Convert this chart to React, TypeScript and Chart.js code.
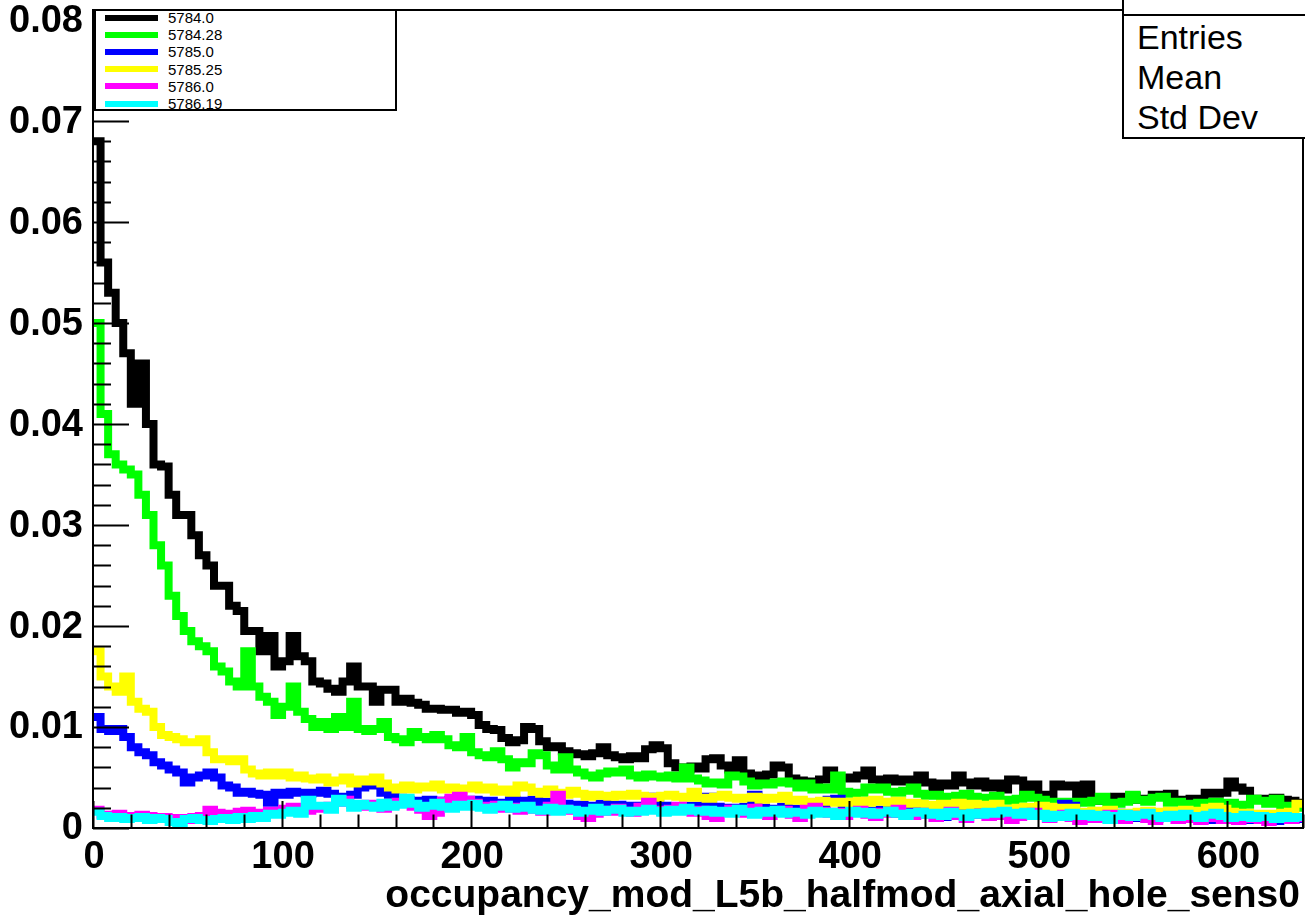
import React, { useEffect, useRef } from "react";
import { Chart, registerables } from "chart.js";

Chart.register(...registerables);

// ---------- data ----------
const BIN_WIDTH = 4;
const X_MAX = 640;
const Y_MAX = 0.081;
const X_TICK_LABELS = [0, 100, 200, 300, 400, 500, 600];
const Y_TICK_LABELS = [0, 0.01, 0.02, 0.03, 0.04, 0.05, 0.06, 0.07, 0.08];
const SERIES_NAMES = ["5784.0", "5784.28", "5785.0", "5785.25", "5786.0", "5786.19"];
const SERIES_COLORS = ["#000000", "#00ff00", "#0000ff", "#ffff00", "#ff00ff", "#00ffff"];
const X_TITLE = "occupancy_mod_L5b_halfmod_axial_hole_sens0";
const STATS_LABELS = ["Entries", "Mean", "Std Dev"];

const black = [
  0.068, 0.056, 0.053, 0.050, 0.047, 0.042, 0.046, 0.040, 0.036, 0.0358,
  0.033, 0.031, 0.031, 0.029, 0.027, 0.026, 0.024, 0.024, 0.022, 0.0215,
  0.0195, 0.0195, 0.0175, 0.019, 0.016, 0.0165, 0.019, 0.017, 0.0165, 0.0145,
  0.0143, 0.0138, 0.0135, 0.0145, 0.016, 0.014, 0.014, 0.0125, 0.0137, 0.0137,
  0.0125, 0.0128, 0.0124, 0.0122, 0.0118, 0.0118, 0.0117, 0.0117, 0.0114, 0.0115,
  0.0112, 0.0102, 0.0098, 0.0097, 0.0089, 0.0085, 0.0087, 0.0100, 0.0098, 0.0086,
  0.0080, 0.0081, 0.0076, 0.0074, 0.0073, 0.0071, 0.0074, 0.0080, 0.0072, 0.0070,
  0.0068, 0.0071, 0.0069, 0.0078, 0.0082, 0.0079, 0.0064, 0.0060, 0.0058, 0.0061,
  0.0059, 0.0068, 0.0069, 0.0062, 0.0058, 0.0067, 0.0054, 0.0052, 0.0051, 0.0053,
  0.0062, 0.0060, 0.0049, 0.0047, 0.0046, 0.0045, 0.0048, 0.0057, 0.0050, 0.0050,
  0.0049, 0.0052, 0.0057, 0.0048, 0.0047, 0.0049, 0.0046, 0.0048, 0.0047, 0.0052,
  0.0045, 0.0040, 0.0044, 0.0042, 0.0052, 0.0045, 0.0042, 0.0046, 0.0040, 0.0044,
  0.0038, 0.0048, 0.0047, 0.0036, 0.0043, 0.0031, 0.0033, 0.0043, 0.0041, 0.0042,
  0.0032, 0.0043, 0.0029, 0.0027, 0.0029, 0.0031, 0.0030, 0.0032, 0.0028, 0.0029,
  0.0033, 0.0032, 0.0034, 0.0028, 0.0027, 0.0029, 0.0028, 0.0035, 0.0034, 0.0035,
  0.0046, 0.0040, 0.0037, 0.0028, 0.0029, 0.0027, 0.0030, 0.0028, 0.0027, 0.0025,
];

const green = [
  0.050, 0.041, 0.037, 0.036, 0.0355, 0.035, 0.033, 0.031, 0.028, 0.026,
  0.023, 0.021, 0.0195, 0.0185, 0.018, 0.0175, 0.016, 0.0155, 0.0145, 0.014,
  0.0175, 0.014, 0.013, 0.0125, 0.0112, 0.0120, 0.0140, 0.0115, 0.0108, 0.0100,
  0.0105, 0.0098, 0.0110, 0.0100, 0.0125, 0.0098, 0.0096, 0.0098, 0.0105, 0.0090,
  0.0088, 0.0085, 0.0095, 0.0090, 0.0088, 0.0092, 0.0088, 0.0082, 0.0080, 0.0090,
  0.0075, 0.0072, 0.0070, 0.0076, 0.0068, 0.0060, 0.0065, 0.0064, 0.0074, 0.0072,
  0.0062, 0.0058, 0.0070, 0.0058, 0.0055, 0.0052, 0.0050, 0.0054, 0.0056, 0.0055,
  0.0058, 0.0052, 0.0050, 0.0053, 0.0051, 0.0050, 0.0052, 0.0049, 0.0060, 0.0049,
  0.0047, 0.0044, 0.0045, 0.0043, 0.0052, 0.0051, 0.0046, 0.0042, 0.0044, 0.0043,
  0.0045, 0.0046, 0.0044, 0.0040, 0.0044, 0.0038, 0.0040, 0.0038, 0.0052, 0.0036,
  0.0034, 0.0035, 0.0040, 0.0038, 0.0040, 0.0036, 0.0035, 0.0037, 0.0040, 0.0034,
  0.0032, 0.0033, 0.0031, 0.0030, 0.0032, 0.0034, 0.0031, 0.0029, 0.0030, 0.0032,
  0.0028, 0.0027, 0.0029, 0.0033, 0.0030, 0.0028, 0.0026, 0.0025, 0.0026, 0.0024,
  0.0026, 0.0025, 0.0027, 0.0031, 0.0025, 0.0024, 0.0026, 0.0033, 0.0028, 0.0026,
  0.0030, 0.0031, 0.0025, 0.0026, 0.0024, 0.0023, 0.0025, 0.0024, 0.0026, 0.0023,
  0.0025, 0.0022, 0.0023, 0.0029, 0.0027, 0.0024, 0.0029, 0.0022, 0.0021, 0.0020,
];

const blue = [
  0.0110, 0.0098, 0.0096, 0.0098, 0.0090, 0.0080, 0.0075, 0.0072, 0.0065, 0.0062,
  0.0058, 0.0055, 0.0045, 0.0050, 0.0052, 0.0055, 0.0050, 0.0042, 0.0040, 0.0035,
  0.0036, 0.0034, 0.0033, 0.0025, 0.0035, 0.0033, 0.0036, 0.0035, 0.0034, 0.0035,
  0.0037, 0.0034, 0.0031, 0.0030, 0.0033, 0.0040, 0.0046, 0.0042, 0.0035, 0.0033,
  0.0030, 0.0028, 0.0027, 0.0026, 0.0028, 0.0025, 0.0027, 0.0028, 0.0026, 0.0025,
  0.0028, 0.0026, 0.0027, 0.0025, 0.0024, 0.0028, 0.0025, 0.0027, 0.0028, 0.0023,
  0.0026, 0.0022, 0.0024, 0.0021, 0.0023, 0.0020, 0.0022, 0.0024, 0.0021, 0.0023,
  0.0020, 0.0022, 0.0019, 0.0024, 0.0031, 0.0022, 0.0020, 0.0021, 0.0019, 0.0022,
  0.0020, 0.0031, 0.0021, 0.0019, 0.0020, 0.0018, 0.0021, 0.0033, 0.0020, 0.0018,
  0.0019, 0.0021, 0.0017, 0.0019, 0.0018, 0.0016, 0.0019, 0.0028, 0.0029, 0.0018,
  0.0016, 0.0019, 0.0017, 0.0015, 0.0018, 0.0016, 0.0014, 0.0017, 0.0015, 0.0018,
  0.0016, 0.0014, 0.0011, 0.0015, 0.0017, 0.0014, 0.0016, 0.0013, 0.0015, 0.0014,
  0.0016, 0.0013, 0.0015, 0.0012, 0.0014, 0.0016, 0.0013, 0.0015, 0.0024, 0.0022,
  0.0014, 0.0012, 0.0014, 0.0011, 0.0013, 0.0015, 0.0012, 0.0010, 0.0013, 0.0011,
  0.0009, 0.0012, 0.0010, 0.0013, 0.0011, 0.0009, 0.0012, 0.0010, 0.0008, 0.0011,
  0.0009, 0.0012, 0.0010, 0.0008, 0.0011, 0.0009, 0.0007, 0.0010, 0.0008, 0.0009,
];

const yellow = [
  0.0175, 0.0150, 0.0140, 0.0135, 0.0150, 0.0125, 0.0118, 0.0115, 0.0100, 0.0092,
  0.0090, 0.0088, 0.0085, 0.0085, 0.0088, 0.0075, 0.0068, 0.0068, 0.0066, 0.0068,
  0.0058, 0.0054, 0.0052, 0.0055, 0.0052, 0.0055, 0.0050, 0.0052, 0.0049, 0.0048,
  0.0050, 0.0045, 0.0047, 0.0050, 0.0044, 0.0048, 0.0046, 0.0050, 0.0044, 0.0040,
  0.0038, 0.0042, 0.0038, 0.0041, 0.0040, 0.0043, 0.0038, 0.0040, 0.0037, 0.0039,
  0.0042, 0.0038, 0.0040, 0.0036, 0.0038, 0.0035, 0.0042, 0.0040, 0.0036, 0.0034,
  0.0038, 0.0035, 0.0033, 0.0037, 0.0034, 0.0031, 0.0033, 0.0032, 0.0031, 0.0033,
  0.0032, 0.0034, 0.0032, 0.0031, 0.0030, 0.0032, 0.0033, 0.0031, 0.0030, 0.0036,
  0.0030, 0.0029, 0.0031, 0.0033, 0.0030, 0.0029, 0.0030, 0.0031, 0.0028, 0.0030,
  0.0029, 0.0032, 0.0027, 0.0028, 0.0026, 0.0025, 0.0027, 0.0026, 0.0025, 0.0026,
  0.0024, 0.0027, 0.0025, 0.0028, 0.0026, 0.0025, 0.0027, 0.0024, 0.0025, 0.0024,
  0.0023, 0.0022, 0.0024, 0.0023, 0.0025, 0.0022, 0.0024, 0.0023, 0.0022, 0.0024,
  0.0019, 0.0018, 0.0020, 0.0021, 0.0020, 0.0022, 0.0021, 0.0020, 0.0019, 0.0020,
  0.0016, 0.0015, 0.0017, 0.0016, 0.0018, 0.0014, 0.0015, 0.0013, 0.0016, 0.0017,
  0.0016, 0.0015, 0.0017, 0.0016, 0.0018, 0.0017, 0.0016, 0.0020, 0.0021, 0.0019,
  0.0016, 0.0014, 0.0015, 0.0013, 0.0014, 0.0013, 0.0014, 0.0015, 0.0016, 0.0024,
];

const magenta = [
  0.0018, 0.0013, 0.0012, 0.0014, 0.0012, 0.0011, 0.0013, 0.0012, 0.0010, 0.0011,
  0.0009, 0.0010, 0.0008, 0.0011, 0.0012, 0.0018, 0.0015, 0.0012, 0.0014, 0.0016,
  0.0017, 0.0015, 0.0013, 0.0017, 0.0016, 0.0019, 0.0021, 0.0018, 0.0017, 0.0020,
  0.0019, 0.0022, 0.0025, 0.0028, 0.0023, 0.0021, 0.0024, 0.0022, 0.0019, 0.0022,
  0.0026, 0.0024, 0.0021, 0.0018, 0.0012, 0.0015, 0.0027, 0.0030, 0.0032, 0.0028,
  0.0025, 0.0022, 0.0020, 0.0023, 0.0019, 0.0021, 0.0017, 0.0020, 0.0018, 0.0016,
  0.0022, 0.0033, 0.0019, 0.0017, 0.0012, 0.0010, 0.0014, 0.0018, 0.0016, 0.0020,
  0.0017, 0.0015, 0.0021, 0.0026, 0.0018, 0.0016, 0.0019, 0.0022, 0.0017, 0.0015,
  0.0018, 0.0012, 0.0010, 0.0016, 0.0019, 0.0017, 0.0014, 0.0020, 0.0016, 0.0012,
  0.0015, 0.0018, 0.0013, 0.0010, 0.0019, 0.0021, 0.0017, 0.0014, 0.0016, 0.0012,
  0.0015, 0.0018, 0.0013, 0.0011, 0.0016, 0.0014, 0.0019, 0.0015, 0.0012, 0.0016,
  0.0013, 0.0010, 0.0014, 0.0017, 0.0012, 0.0009, 0.0013, 0.0015, 0.0011, 0.0014,
  0.0012, 0.0008, 0.0011, 0.0013, 0.0016, 0.0012, 0.0009, 0.0011, 0.0014, 0.0010,
  0.0007, 0.0011, 0.0009, 0.0012, 0.0014, 0.0010, 0.0008, 0.0011, 0.0013, 0.0009,
  0.0007, 0.0010, 0.0012, 0.0008, 0.0011, 0.0009, 0.0007, 0.0010, 0.0012, 0.0008,
  0.0010, 0.0007, 0.0009, 0.0011, 0.0008, 0.0006, 0.0009, 0.0011, 0.0008, 0.0010,
];

const cyan = [
  0.0016, 0.0012, 0.0010, 0.0011, 0.0009, 0.0010, 0.0011, 0.0008, 0.0010, 0.0009,
  0.0006, 0.0005, 0.0009, 0.0010, 0.0008, 0.0007, 0.0009, 0.0010, 0.0008, 0.0011,
  0.0009, 0.0012, 0.0010, 0.0014, 0.0013, 0.0015, 0.0017, 0.0014, 0.0028, 0.0022,
  0.0022, 0.0018, 0.0029, 0.0025, 0.0020, 0.0024, 0.0022, 0.0020, 0.0025, 0.0021,
  0.0023, 0.0030, 0.0024, 0.0020, 0.0022, 0.0025, 0.0021, 0.0019, 0.0023, 0.0021,
  0.0024, 0.0020, 0.0018, 0.0021, 0.0023, 0.0019, 0.0020, 0.0022, 0.0018, 0.0017,
  0.0020, 0.0016, 0.0019, 0.0018, 0.0015, 0.0017, 0.0020, 0.0016, 0.0018, 0.0019,
  0.0015, 0.0017, 0.0016, 0.0019, 0.0017, 0.0015, 0.0018, 0.0016, 0.0020, 0.0017,
  0.0016, 0.0018, 0.0015, 0.0017, 0.0014, 0.0019, 0.0016, 0.0013, 0.0017, 0.0015,
  0.0018, 0.0014, 0.0016, 0.0015, 0.0013, 0.0017, 0.0014, 0.0016, 0.0012, 0.0015,
  0.0017, 0.0014, 0.0016, 0.0013, 0.0015, 0.0017, 0.0014, 0.0012, 0.0015, 0.0016,
  0.0013, 0.0015, 0.0012, 0.0016, 0.0014, 0.0011, 0.0015, 0.0013, 0.0016, 0.0014,
  0.0017, 0.0015, 0.0013, 0.0016, 0.0012, 0.0014, 0.0010, 0.0013, 0.0011, 0.0015,
  0.0012, 0.0014, 0.0011, 0.0013, 0.0008, 0.0012, 0.0014, 0.0011, 0.0013, 0.0015,
  0.0012, 0.0010, 0.0013, 0.0011, 0.0014, 0.0012, 0.0010, 0.0013, 0.0015, 0.0012,
  0.0010, 0.0011, 0.0013, 0.0010, 0.0012, 0.0011, 0.0009, 0.0012, 0.0010, 0.0011,
];

const SERIES_VALUES = [black, green, blue, yellow, magenta, cyan];

// ---------- styling ----------
const FONT = "'Liberation Sans', Arial, Helvetica, sans-serif";

function histPoints(values: number[]) {
  const pts = values.map((v, i) => ({ x: i * BIN_WIDTH, y: v }));
  pts.push({ x: values.length * BIN_WIDTH, y: values[values.length - 1] });
  return pts;
}

const rootFrame = {
  id: "rootFrame",
  afterDatasetsDraw(chart: any) {
    const { ctx, chartArea: a, scales } = chart;
    const xs = scales.x;
    const ys = scales.y;
    ctx.save();
    ctx.strokeStyle = "#000";
    ctx.lineWidth = 2;
    ctx.strokeRect(a.left, a.top, a.right - a.left, a.bottom - a.top);

    // x ticks (inside)
    ctx.beginPath();
    for (let v = 0; v <= X_MAX; v += 20) {
      const px = Math.round(xs.getPixelForValue(v)) + 0.5;
      const len = v % 100 === 0 ? 27 : 13.5;
      ctx.moveTo(px, a.bottom);
      ctx.lineTo(px, a.bottom - len);
    }
    // y ticks (inside)
    for (let k = 0; k <= 40; k++) {
      const v = k * 0.002;
      if (v > Y_MAX) break;
      const py = Math.round(ys.getPixelForValue(v)) + 0.5;
      const len = k % 5 === 0 ? 36 : 18;
      ctx.moveTo(a.left, py);
      ctx.lineTo(a.left + len, py);
    }
    ctx.stroke();

    // labels
    ctx.fillStyle = "#000";
    ctx.font = `bold 38px ${FONT}`;
    ctx.textAlign = "right";
    ctx.textBaseline = "middle";
    Y_TICK_LABELS.forEach((v) => {
      const py = ys.getPixelForValue(v);
      ctx.fillText(v === 0 ? "0" : v.toFixed(2), a.left - 10, py + 1);
    });
    ctx.textAlign = "center";
    X_TICK_LABELS.forEach((v) => {
      const px = xs.getPixelForValue(v);
      ctx.fillText(String(v), px + 1, a.bottom + 30);
    });
    ctx.font = `bold 39px ${FONT}`;
    ctx.textAlign = "right";
    ctx.fillText(X_TITLE, a.right - 3, a.bottom + 68);
    ctx.restore();
  },
};

export default function App() {
  const canvasRef = useRef<HTMLCanvasElement | null>(null);

  useEffect(() => {
    document.body.style.margin = "0";
    const canvas = canvasRef.current;
    if (!canvas) return;
    const datasets = SERIES_VALUES.map((vals, i) => ({
      label: SERIES_NAMES[i],
      data: histPoints(vals),
      borderColor: SERIES_COLORS[i],
      backgroundColor: SERIES_COLORS[i],
      borderWidth: 8,
      stepped: true as const,
      pointRadius: 0,
      fill: false,
      tension: 0,
      borderJoinStyle: "miter" as const,
      order: SERIES_VALUES.length - i,
    }));
    const chart = new Chart(canvas, {
      type: "line",
      data: { datasets },
      options: {
        animation: false,
        responsive: false,
        maintainAspectRatio: false,
        layout: { padding: { left: 93, right: 2, top: 10, bottom: 88 } },
        scales: {
          x: { type: "linear", min: 0, max: X_MAX, display: false },
          y: { type: "linear", min: 0, max: Y_MAX, display: false },
        },
        plugins: { legend: { display: false }, tooltip: { enabled: false } },
      },
      plugins: [rootFrame],
    });
    return () => chart.destroy();
  }, []);

  return (
    <div style={{ position: "relative", width: 1305, height: 916, overflow: "hidden", background: "#fff" }}>
      <canvas ref={canvasRef} width={1305} height={916} style={{ position: "absolute", left: 0, top: 0 }} />
      {/* legend */}
      <div
        style={{
          position: "absolute", left: 94, top: 9, width: 299, height: 98,
          border: "2px solid #000", background: "#fff", overflow: "hidden",
          fontFamily: FONT, fontSize: 15,
        }}
      >
        {SERIES_NAMES.map((name, i) => (
          <div key={name} style={{ position: "absolute", left: 0, top: -2 + i * 17.2, height: 17, width: 290 }}>
            <div style={{ position: "absolute", left: 9, top: 5.5, width: 53, height: 6, background: SERIES_COLORS[i] }} />
            <div style={{ position: "absolute", left: 72, top: 0, lineHeight: "17px", color: "#000" }}>{name}</div>
          </div>
        ))}
      </div>
      {/* stats box */}
      <div
        style={{
          position: "absolute", left: 1122, top: -40, width: 200, height: 175,
          border: "2px solid #000", background: "#fff", fontFamily: FONT, fontSize: 34, color: "#000",
        }}
      >
        <div style={{ position: "absolute", left: 0, top: 52, width: 200, borderTop: "2px solid #000" }} />
        {STATS_LABELS.map((s, i) => (
          <div key={s} style={{ position: "absolute", left: 13, top: 55 + i * 40, lineHeight: "40px" }}>{s}</div>
        ))}
      </div>
    </div>
  );
}
